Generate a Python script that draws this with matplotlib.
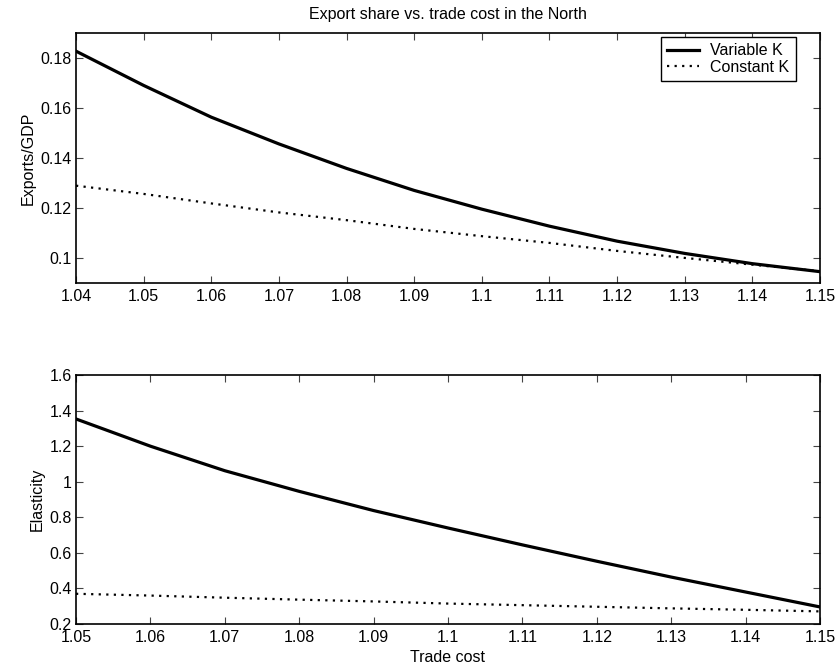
import matplotlib
matplotlib.use("Agg")
import matplotlib.pyplot as plt
from matplotlib.ticker import FuncFormatter

plt.rcParams['font.family'] = ['Liberation Sans', 'DejaVu Sans']
plt.rcParams['font.size'] = 11.5

# Trade cost grid and model outputs
trade_cost_top = [1.04, 1.05, 1.06, 1.07, 1.08, 1.09, 1.10, 1.11, 1.12, 1.13, 1.14, 1.15]
exports_variable_k = [0.1827, 0.1690, 0.1563, 0.1456, 0.1358, 0.1270, 0.1195, 0.1127, 0.1067, 0.1018, 0.0977, 0.0945]
exports_constant_k = [0.1289, 0.1256, 0.1218, 0.1182, 0.1151, 0.1116, 0.1087, 0.1060, 0.1028, 0.1000, 0.0973, 0.0947]

trade_cost_bottom = [1.05, 1.06, 1.07, 1.08, 1.09, 1.10, 1.11, 1.12, 1.13, 1.14, 1.15]
elasticity_variable_k = [1.353, 1.200, 1.062, 0.946, 0.838, 0.740, 0.645, 0.553, 0.464, 0.380, 0.296]
elasticity_constant_k = [0.370, 0.360, 0.348, 0.337, 0.327, 0.315, 0.306, 0.297, 0.288, 0.280, 0.271]

top_yticks = [0.10, 0.12, 0.14, 0.16, 0.18]
top_xticks = [1.04, 1.05, 1.06, 1.07, 1.08, 1.09, 1.10, 1.11, 1.12, 1.13, 1.14, 1.15]
bottom_yticks = [0.2, 0.4, 0.6, 0.8, 1.0, 1.2, 1.4, 1.6]
bottom_xticks = [1.05, 1.06, 1.07, 1.08, 1.09, 1.10, 1.11, 1.12, 1.13, 1.14, 1.15]

fig = plt.figure(figsize=(8.38, 6.72), dpi=100)
ax1 = fig.add_axes([0.0907, 0.579, 0.8878, 0.372])
ax2 = fig.add_axes([0.0907, 0.0714, 0.8878, 0.3705])

gfmt = FuncFormatter(lambda v, p: ('%g' % round(v, 4)))
dot_style = (0, (1, 2.4))


def style(ax):
    ax.tick_params(direction='in', length=5, width=0.8, top=True, right=True,
                   labelsize=11.5, color='#444444')
    ax.tick_params(axis='x', pad=4.5)
    ax.tick_params(axis='y', pad=3)
    for s in ax.spines.values():
        s.set_linewidth(1.2)
    ax.xaxis.set_major_formatter(gfmt)
    ax.yaxis.set_major_formatter(gfmt)


ax1.plot(trade_cost_top, exports_variable_k, color='black', lw=2.3, label='Variable K')
ax1.plot(trade_cost_top, exports_constant_k, color='black', lw=1.6, ls=dot_style, label='Constant K')
ax1.set_xlim(1.04, 1.15)
ax1.set_ylim(0.09, 0.19)
ax1.set_xticks(top_xticks)
ax1.set_yticks(top_yticks)
style(ax1)
ax1.set_ylabel('Exports/GDP', labelpad=3.5)
ax1.set_title('Export share vs. trade cost in the North', fontsize=11.5, pad=10)
leg = ax1.legend(loc='upper right', bbox_to_anchor=(0.9677, 0.984), borderaxespad=0,
                 frameon=True, fancybox=False, edgecolor='black', framealpha=1,
                 handlelength=2.0, borderpad=0.4, labelspacing=0.1,
                 handletextpad=0.7, fontsize=11.5)
leg.get_frame().set_linewidth(1.0)

ax2.plot(trade_cost_bottom, elasticity_variable_k, color='black', lw=2.3)
ax2.plot(trade_cost_bottom, elasticity_constant_k, color='black', lw=1.6, ls=dot_style)
ax2.set_xlim(1.05, 1.15)
ax2.set_ylim(0.2, 1.6)
ax2.set_xticks(bottom_xticks)
ax2.set_yticks(bottom_yticks)
style(ax2)
ax2.set_ylabel('Elasticity', labelpad=3.5)
ax2.set_xlabel('Trade cost', labelpad=3.5)

fig.savefig('out.png', dpi=100)
